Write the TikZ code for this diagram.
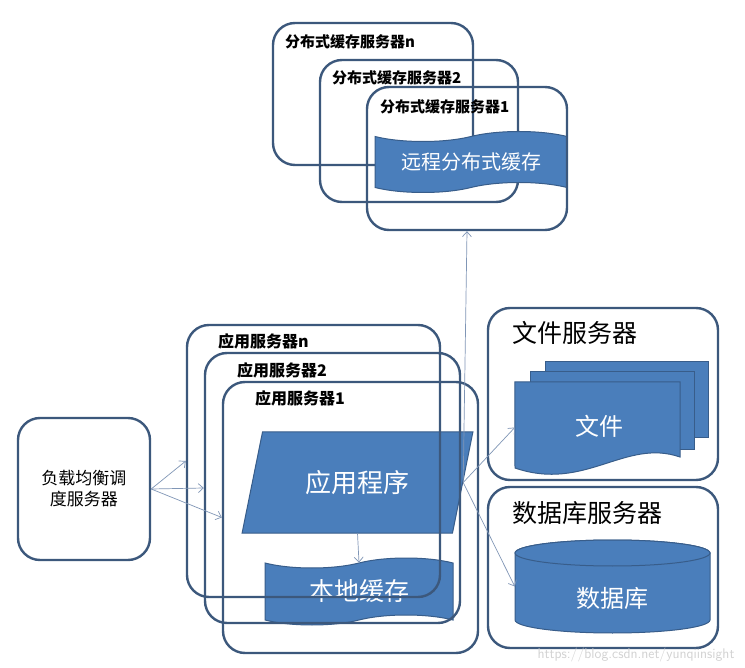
\documentclass[tikz,border=0pt]{standalone}
\usepackage{fontspec}
\setmainfont{Noto Sans CJK SC}
\usetikzlibrary{arrows.meta,shapes.geometric,shapes.symbols}
\definecolor{edgeblue}{RGB}{60,88,124}
\definecolor{fillblue}{RGB}{74,126,187}
\definecolor{rimblue}{RGB}{56,93,138}
\definecolor{linkgray}{RGB}{128,150,182}
\tikzset{
  srv/.style={draw=edgeblue, line width=2.4pt, rounded corners=22pt, inner sep=0pt},
  tag/.style={anchor=west, inner sep=0pt, font=\bfseries\fontsize{15}{15}\selectfont},
  bigtag/.style={anchor=west, inner sep=0pt, font=\fontsize{25}{25}\selectfont},
  blob/.style={fill=fillblue, draw=rimblue, line width=1pt, text=white},
  link/.style={-{Straight Barb[length=5pt,width=9pt]}, draw=linkgray, line width=0.7pt},
}

\begin{document}
\begin{tikzpicture}[x=1pt, y=-1pt]
  \fill[white] (0,0) rectangle (745,668);
  \useasboundingbox (0,0) rectangle (745,668);

  % Distributed cache servers
  \node[srv, minimum width=200pt, minimum height=142pt] (rcn) at (373,94) {};
  \node[tag] (rcntag) at (285,42) {分布式缓存服务器n};
  \node[srv, minimum width=198pt, minimum height=142pt] (rc2) at (419,131) {};
  \node[tag] (rc2tag) at (332,78) {分布式缓存服务器2};
  \node[blob, tape, tape bend height=10pt, minimum width=192pt, minimum height=61pt,
        font=\fontsize{20}{20}\selectfont] (remote) at (471,162) {远程分布式缓存};
  \node[srv, minimum width=200pt, minimum height=143pt] (rc1) at (467,158.5) {};
  \node[tag] (rc1tag) at (380,107) {分布式缓存服务器1};

  % Load balancer
  \node[srv, minimum width=132pt, minimum height=142pt, align=center,
        font=\fontsize{17}{21}\selectfont] (lb) at (84,489) {负载均衡调\\度服务器};

  % Application servers
  \node[blob, trapezium, trapezium left angle=69, trapezium right angle=111,
        trapezium stretches=true, minimum width=231pt, minimum height=101pt,
        font=\fontsize{26}{26}\selectfont] (app) at (357.5,482.5) {应用程序};
  \node[blob, tape, tape bend height=10pt, minimum width=188pt, minimum height=67pt,
        font=\fontsize{25}{25}\selectfont] (local) at (359,591.5) {本地缓存};
  \node[srv, minimum width=253pt, minimum height=272pt] (appn) at (313.5,461) {};
  \node[tag, font=\bfseries\fontsize{16}{16}\selectfont] (appntag) at (218,341) {应用服务器n};
  \node[srv, minimum width=255pt, minimum height=270pt] (app2) at (332.5,488) {};
  \node[tag, font=\bfseries\fontsize{16}{16}\selectfont] (app2tag) at (237,370) {应用服务器2};
  \node[srv, minimum width=255pt, minimum height=271pt] (app1) at (350.5,517.5) {};
  \node[tag, font=\bfseries\fontsize{16}{16}\selectfont] (app1tag) at (255,398) {应用服务器1};

  % File server
  \node[srv, minimum width=230pt, minimum height=172pt] (filesrv) at (603,394) {};
  \node[bigtag] (filetag) at (512,333) {文件服务器};
  \draw[blob] (545,362) rectangle (708,438);
  \draw[blob] (530,372) rectangle (694,450);
  \node[minimum width=165pt, minimum height=91pt, inner sep=0pt, text=white,
        font=\fontsize{24}{24}\selectfont] (file) at (597.5,427.5) {};
  \draw[blob] (file.north west) -- (file.north east) -- (680,457)
    .. controls (625,438) and (585,492) .. (515,468) -- cycle;
  \node[text=white, font=\fontsize{24}{24}\selectfont] (filetext) at (599,426) {文件};

  % Database server
  \node[srv, minimum width=230pt, minimum height=161pt] (dbsrv) at (603,567.5) {};
  \node[bigtag] (dbtag) at (512,513) {数据库服务器};
  \node[minimum width=195pt, minimum height=93pt, inner sep=0pt] (db) at (612.5,586.5) {};
  \draw[blob] (515,553) -- (515,620)
    arc[start angle=180, end angle=360, x radius=97.5pt, y radius=13pt]
    -- (710,553)
    arc[start angle=0, end angle=180, x radius=97.5pt, y radius=13pt] -- cycle;
  \draw[blob] (612.5,553) ellipse[x radius=97.5pt, y radius=13pt];
  \node[text=white, font=\fontsize{24}{24}\selectfont] (dbtext) at (612,598) {数据库};

  % Watermark
  \node[anchor=east, text=gray!35, font=\fontsize{14}{14}\selectfont\sffamily] (mark) at (738,655) {https://blog.csdn.net/yunqiinsight};

  % Arrows
  \draw[link] (lb.east) -- (appn.west);
  \draw[link] (lb.east) -- (app2.west);
  \draw[link] (lb.east) -- (app1.west);
  \draw[link] (app.south) -- (local.north);
  \draw[link] (app.east) -- (rc1.south);
  \draw[link] (app.east) -- (file.west);
  \draw[link] (app.east) -- (db.west);
\end{tikzpicture}
\end{document}
